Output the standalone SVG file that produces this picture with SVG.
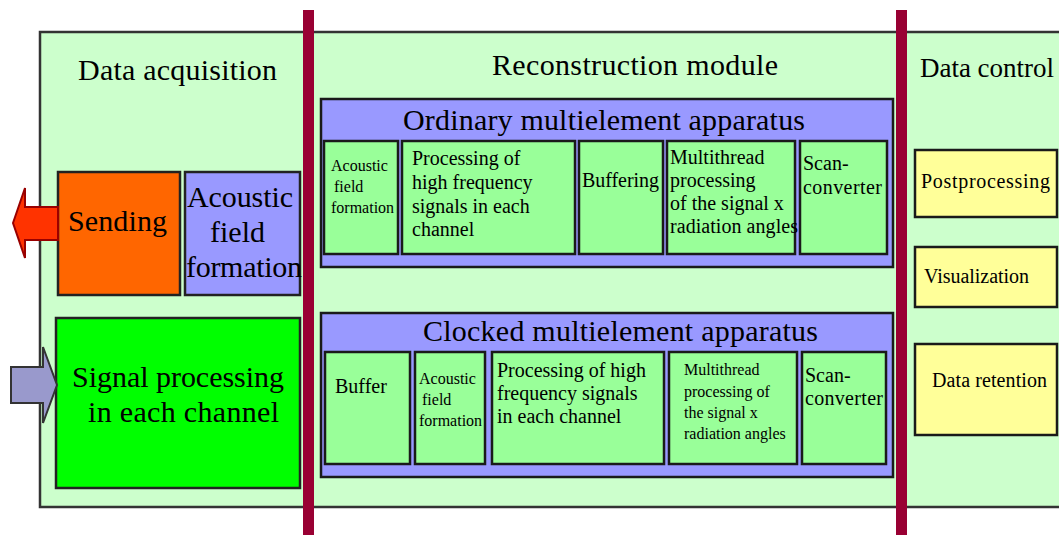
<svg xmlns="http://www.w3.org/2000/svg" width="1059" height="535" viewBox="0 0 1059 535">
<style>
.box{stroke:#222;stroke-width:2.5}
.in{fill:#99FF99;stroke:#1a1a1a;stroke-width:2.5}
.grp{fill:#9999FF;stroke:#1a1a1a;stroke-width:2.5}
.yel{fill:#FFFF99;stroke:#1a1a1a;stroke-width:2.5}
.bar{fill:#990033}
</style>
<rect width="1059" height="535" fill="#fff"/>
<g id="background">
<rect x="40" y="32" width="1030" height="475" fill="#CCFFCC" stroke="#333" stroke-width="2.5"/>
</g>
<g id="data-acquisition">
<text font-family="Liberation Serif" font-size="30" x="78" y="80" textLength="199">Data acquisition</text>
</g>
<g id="reconstruction-title">
<text font-family="Liberation Serif" font-size="30" x="492" y="75" textLength="286">Reconstruction module</text>
</g>
<g id="data-control">
<text font-family="Liberation Serif" font-size="27" x="920" y="77" textLength="134">Data control</text>
</g>
<g id="sending">
<rect class="box" x="58" y="172" width="122" height="123" fill="#FF6600"/>
<text font-family="Liberation Serif" font-size="30" x="68" y="231" textLength="99">Sending</text>
</g>
<g id="acoustic-field">
<rect class="box" x="185" y="172" width="115" height="123" fill="#9999FF"/>
<text font-family="Liberation Serif" font-size="30" x="187" y="207" textLength="106">Acoustic</text>
<text font-family="Liberation Serif" font-size="30" x="210" y="242">field</text>
<text font-family="Liberation Serif" font-size="30" x="186" y="277" textLength="116">formation</text>
</g>
<g id="signal-processing">
<rect class="box" x="56" y="318" width="244" height="170" fill="#00FF00"/>
<text font-family="Liberation Serif" font-size="30" x="72" y="387" textLength="212">Signal processing</text>
<text font-family="Liberation Serif" font-size="30" x="88" y="422" textLength="191">in each channel</text>
</g>
<g id="ordinary">
<rect class="grp" x="321" y="99" width="572" height="168"/>
<text font-family="Liberation Serif" font-size="30" x="403" y="130" textLength="402">Ordinary multielement apparatus</text>
</g>
<g id="ord-acoustic">
<rect class="in" x="324" y="141" width="74" height="113"/>
<text font-family="Liberation Serif" font-size="16" x="331" y="171">Acoustic</text>
<text font-family="Liberation Serif" font-size="16" x="334" y="192">field</text>
<text font-family="Liberation Serif" font-size="16" x="331" y="213">formation</text>
</g>
<g id="ord-processing">
<rect class="in" x="402" y="141" width="173" height="113"/>
<text font-family="Liberation Serif" font-size="20" x="412" y="165">Processing of</text>
<text font-family="Liberation Serif" font-size="20" x="412" y="189">high frequency</text>
<text font-family="Liberation Serif" font-size="20" x="412" y="213">signals in each</text>
<text font-family="Liberation Serif" font-size="20" x="412" y="236">channel</text>
</g>
<g id="ord-buffering">
<rect class="in" x="579" y="141" width="84" height="113"/>
<text font-family="Liberation Serif" font-size="20" x="582" y="187" textLength="77">Buffering</text>
</g>
<g id="ord-multithread">
<rect class="in" x="667" y="141" width="128" height="113"/>
<text font-family="Liberation Serif" font-size="20" x="670" y="164">Multithread</text>
<text font-family="Liberation Serif" font-size="20" x="670" y="187">processing</text>
<text font-family="Liberation Serif" font-size="20" x="670" y="210">of the signal x</text>
<text font-family="Liberation Serif" font-size="20" x="670" y="233" textLength="128">radiation angles</text>
</g>
<g id="ord-scan">
<rect class="in" x="800" y="141" width="87" height="113"/>
<text font-family="Liberation Serif" font-size="20" x="803" y="170">Scan-</text>
<text font-family="Liberation Serif" font-size="20" x="803" y="194" textLength="79">converter</text>
</g>
<g id="clocked">
<rect class="grp" x="321" y="313" width="572" height="164"/>
<text font-family="Liberation Serif" font-size="30" x="423" y="341" textLength="395">Clocked multielement apparatus</text>
</g>
<g id="clk-buffer">
<rect class="in" x="325" y="352" width="85" height="112"/>
<text font-family="Liberation Serif" font-size="20" x="335" y="393">Buffer</text>
</g>
<g id="clk-acoustic">
<rect class="in" x="415" y="352" width="70" height="112"/>
<text font-family="Liberation Serif" font-size="16" x="419" y="384">Acoustic</text>
<text font-family="Liberation Serif" font-size="16" x="422" y="405">field</text>
<text font-family="Liberation Serif" font-size="16" x="419" y="426">formation</text>
</g>
<g id="clk-processing">
<rect class="in" x="492" y="352" width="172" height="112"/>
<text font-family="Liberation Serif" font-size="20" x="497" y="377">Processing of high</text>
<text font-family="Liberation Serif" font-size="20" x="497" y="400">frequency signals</text>
<text font-family="Liberation Serif" font-size="20" x="497" y="423">in each channel</text>
</g>
<g id="clk-multithread">
<rect class="in" x="669" y="352" width="128" height="112"/>
<text font-family="Liberation Serif" font-size="16" x="684" y="375">Multithread</text>
<text font-family="Liberation Serif" font-size="16" x="684" y="397">processing of</text>
<text font-family="Liberation Serif" font-size="16" x="684" y="418">the signal x</text>
<text font-family="Liberation Serif" font-size="16" x="684" y="439">radiation angles</text>
</g>
<g id="clk-scan">
<rect class="in" x="802" y="352" width="84" height="112"/>
<text font-family="Liberation Serif" font-size="20" x="805" y="382">Scan-</text>
<text font-family="Liberation Serif" font-size="20" x="805" y="405" textLength="78">converter</text>
</g>
<g id="postprocessing">
<rect class="yel" x="915" y="150" width="142" height="67"/>
<text font-family="Liberation Serif" font-size="20" x="921" y="188" textLength="129">Postprocessing</text>
</g>
<g id="visualization">
<rect class="yel" x="915" y="247" width="142" height="60"/>
<text font-family="Liberation Serif" font-size="20" x="924" y="283" textLength="105">Visualization</text>
</g>
<g id="data-retention">
<rect class="yel" x="915" y="344" width="142" height="91"/>
<text font-family="Liberation Serif" font-size="20" x="932" y="387" textLength="115">Data retention</text>
</g>
<g id="dividers">
<rect class="bar" x="303" y="10" width="11" height="525"/>
<rect class="bar" x="896" y="10" width="11" height="525"/>
</g>
<g id="connectors">
<polygon points="13,223 25,188 25,207 58,207 58,240 25,240 25,258" fill="#FF3300" stroke="#990000" stroke-width="2"/>
<polygon points="11,367 43,367 43,347 57,385 43,423 43,403 11,403" fill="#9999CC" stroke="#333" stroke-width="2"/>
</g>
</svg>
